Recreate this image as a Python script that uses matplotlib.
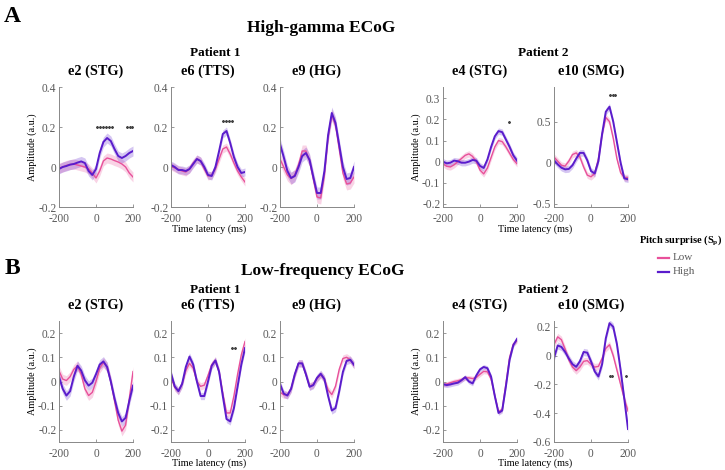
import numpy as np
import matplotlib
matplotlib.use('Agg')
import matplotlib.pyplot as plt

plt.rcParams['font.family'] = ['Liberation Serif', 'DejaVu Serif']
plt.rcParams['axes.unicode_minus'] = False

# time axis (ms)
t = [-200, -180, -160, -140, -120, -100, -80, -60, -40, -20, 0,
     20, 40, 60, 80, 100, 120, 140, 160, 180, 200]

# ---- A: high-gamma ECoG ----
a_e2_low = [-0.005, 0.0, 0.008, 0.012, 0.015, 0.01, 0.005, 0.0, -0.01, -0.03, -0.055,
            -0.02, 0.03, 0.045, 0.04, 0.032, 0.025, 0.015, 0.0, -0.03, -0.05]
a_e2_high = [-0.01, 0.0, 0.005, 0.012, 0.015, 0.022, 0.028, 0.02, -0.02, -0.04, -0.01,
             0.07, 0.125, 0.145, 0.13, 0.09, 0.055, 0.045, 0.055, 0.07, 0.08]
a_e6_low = [0.005, -0.005, -0.012, -0.02, -0.025, -0.01, 0.02, 0.04, 0.03, -0.01, -0.045,
            -0.04, -0.01, 0.04, 0.09, 0.1, 0.065, 0.02, -0.02, -0.05, -0.075]
a_e6_high = [0.01, 0.0, -0.015, -0.015, -0.02, -0.01, 0.015, 0.04, 0.03, 0.0, -0.04,
             -0.045, 0.0, 0.08, 0.165, 0.18, 0.12, 0.05, 0.0, -0.03, -0.025]
a_e9_low = [0.04, 0.0, -0.04, -0.058, -0.04, 0.01, 0.08, 0.08, 0.03, -0.06, -0.15,
            -0.155, -0.04, 0.15, 0.26, 0.21, 0.09, -0.03, -0.085, -0.08, -0.05]
a_e9_high = [0.115, 0.05, -0.02, -0.055, -0.045, 0.0, 0.055, 0.07, 0.035, -0.05, -0.13,
             -0.13, -0.02, 0.16, 0.27, 0.22, 0.11, 0.0, -0.06, -0.055, 0.0]
a_e4_low = [-0.01, -0.022, -0.025, -0.015, 0.0, 0.015, 0.03, 0.037, 0.025, 0.0, -0.04,
            -0.058, -0.03, 0.02, 0.07, 0.1, 0.095, 0.07, 0.04, 0.01, -0.01]
a_e4_high = [0.0, -0.008, -0.005, 0.005, 0.002, -0.005, -0.005, 0.0, 0.008, 0.005, -0.02,
             -0.03, 0.01, 0.07, 0.12, 0.145, 0.14, 0.105, 0.07, 0.03, 0.005]
a_e10_low = [0.07, 0.02, -0.03, -0.04, 0.02, 0.1, 0.12, 0.07, -0.05, -0.15, -0.17,
             -0.13, 0.05, 0.35, 0.55, 0.5, 0.3, 0.05, -0.12, -0.18, -0.18]
a_e10_high = [0.03, -0.02, -0.06, -0.08, -0.075, -0.03, 0.05, 0.12, 0.12, 0.03, -0.1,
              -0.13, 0.02, 0.35, 0.62, 0.68, 0.5, 0.25, 0.0, -0.19, -0.2]

# ---- B: low-frequency ECoG ----
b_e2_low = [0.044, 0.01, 0.004, 0.02, 0.05, 0.065, 0.03, -0.03, -0.058, -0.045, 0.0,
            0.055, 0.078, 0.06, 0.0, -0.08, -0.16, -0.205, -0.18, -0.07, 0.041]
b_e2_high = [0.02, -0.03, -0.058, -0.04, 0.02, 0.065, 0.045, 0.005, -0.017, -0.005, 0.03,
             0.07, 0.083, 0.06, 0.0, -0.07, -0.13, -0.165, -0.15, -0.08, -0.017]
b_e6_low = [0.02, -0.025, -0.04, -0.01, 0.045, 0.075, 0.055, 0.0, -0.02, -0.015, 0.025,
            0.07, 0.087, 0.04, -0.05, -0.13, -0.13, -0.06, 0.03, 0.11, 0.165]
b_e6_high = [0.034, -0.02, -0.04, -0.01, 0.06, 0.103, 0.07, 0.0, -0.06, -0.06, 0.0,
             0.065, 0.087, 0.04, -0.06, -0.155, -0.165, -0.11, -0.02, 0.07, 0.138]
b_e9_low = [-0.044, -0.055, -0.055, -0.03, 0.03, 0.075, 0.075, 0.03, -0.02, -0.012, 0.012,
            0.028, 0.01, -0.035, -0.054, -0.02, 0.05, 0.095, 0.1, 0.09, 0.067]
b_e9_high = [-0.01, -0.05, -0.058, -0.03, 0.03, 0.075, 0.075, 0.03, -0.022, -0.015, 0.015,
             0.032, 0.01, -0.06, -0.12, -0.11, -0.04, 0.04, 0.085, 0.09, 0.069]
b_e4_low = [-0.013, -0.01, -0.005, 0.0, 0.003, 0.008, 0.015, 0.015, 0.012, 0.017, 0.03,
            0.042, 0.04, 0.01, -0.06, -0.125, -0.115, -0.01, 0.1, 0.155, 0.168]
b_e4_high = [-0.011, -0.015, -0.012, -0.008, -0.005, 0.005, 0.018, 0.0, -0.008, 0.025, 0.05,
             0.06, 0.055, 0.02, -0.06, -0.13, -0.12, -0.02, 0.09, 0.15, 0.176]
b_e10_low = [0.076, 0.13, 0.11, 0.045, -0.03, -0.08, -0.105, -0.08, -0.04, -0.035, -0.06,
             -0.08, -0.075, -0.02, 0.05, 0.075, 0.0, -0.1, -0.2, -0.3, -0.385]
b_e10_high = [-0.016, 0.07, 0.06, 0.025, -0.02, -0.06, -0.078, -0.04, 0.025, 0.02, -0.04,
              -0.11, -0.145, -0.06, 0.12, 0.225, 0.2, 0.08, -0.1, -0.3, -0.51]

# shaded error half-widths (low, high)
a_err = [(0.025, 0.025), (0.02, 0.02), (0.03, 0.03), (0.015, 0.015), (0.04, 0.04)]
b_err = [(0.02, 0.02), (0.015, 0.015), (0.015, 0.015), (0.01, 0.01), (0.025, 0.025)]

electrodes = ['e2 (STG)', 'e6 (TTS)', 'e9 (HG)', 'e4 (STG)', 'e10 (SMG)']

# significant time points (ms) and the level where the stars sit
a_sig = [([5, 21, 37, 53, 69, 85, 170, 183, 196], 0.2),
         ([83, 99, 115, 130], 0.23),
         ([], 0),
         ([157], 0.19),
         ([104, 118, 132], 0.82)]
b_sig = [([], 0),
         ([132, 147], 0.14),
         ([], 0),
         ([], 0),
         ([100, 115, 191], -0.14)]

a_lims = [(-0.2, 0.4), (-0.2, 0.4), (-0.2, 0.4), (-0.215, 0.354), (-0.537, 0.92)]
b_lims = [(-0.25, 0.25)] * 4 + [(-0.6, 0.24)]
a_ticks = [[-0.2, 0, 0.2, 0.4]] * 3 + [[-0.2, -0.1, 0, 0.1, 0.2, 0.3], [-0.5, 0, 0.5]]
b_ticks = [[-0.2, -0.1, 0, 0.1, 0.2]] * 4 + [[-0.6, -0.4, -0.2, 0, 0.2]]

low_col = '#e8509a'
high_col = '#5a1ccc'
grey = '#5a5a5a'

W, H = 725., 470.
fig = plt.figure(figsize=(7.25, 4.7), dpi=100)

lefts = [59, 171, 280, 443, 554]
rows = [(87, 207, [a_e2_low, a_e6_low, a_e9_low, a_e4_low, a_e10_low],
         [a_e2_high, a_e6_high, a_e9_high, a_e4_high, a_e10_high], a_err, a_sig, a_lims, a_ticks),
        (321, 442, [b_e2_low, b_e6_low, b_e9_low, b_e4_low, b_e10_low],
         [b_e2_high, b_e6_high, b_e9_high, b_e4_high, b_e10_high], b_err, b_sig, b_lims, b_ticks)]

for top, bot, lows, highs, errs, sigs, lims, ticks in rows:
    for k in range(5):
        ax = fig.add_axes([lefts[k] / W, 1 - bot / H, 74 / W, (bot - top) / H])
        lo = np.array(lows[k])
        hi = np.array(highs[k])
        ax.fill_between(t, lo - errs[k][0], lo + errs[k][0], color=low_col, alpha=0.25, lw=0)
        ax.fill_between(t, hi - errs[k][1], hi + errs[k][1], color=high_col, alpha=0.25, lw=0)
        ax.plot(t, lo, color=low_col, lw=1.0)
        ax.plot(t, hi, color=high_col, lw=1.4)
        st, lev = sigs[k]
        if len(st):
            ax.plot(st, [lev] * len(st), ls='none', marker=(6, 2, 0), ms=2.0,
                    color='#444444', mew=0.4)
        ax.set_xlim(-200, 200)
        ax.set_ylim(*lims[k])
        ax.set_xticks([-200, 0, 200])
        ax.set_xticklabels(['-200', '0', '200'])
        ax.set_yticks(ticks[k])
        ax.set_yticklabels(['%g' % v for v in ticks[k]])
        for s in ['top', 'right']:
            ax.spines[s].set_visible(False)
        for s in ['left', 'bottom']:
            ax.spines[s].set_color('#888888')
            ax.spines[s].set_linewidth(0.7)
        ax.tick_params(direction='in', length=2, width=0.6, colors='#888888',
                       labelcolor=grey, labelsize=8.3)
        ax.tick_params(axis='x', pad=4)
        ax.tick_params(axis='y', pad=2)
        ax.set_title(electrodes[k], fontsize=10.3, fontweight='bold', pad=9)
        if k in (0, 3):
            ax.set_ylabel('Amplitude (a.u.)', fontsize=7.3, labelpad=1)

fig.text(12 / W, 1 - 16 / H, 'A', fontsize=17, fontweight='bold', ha='center', va='center')
fig.text(12 / W, 1 - 268 / H, 'B', fontsize=17, fontweight='bold', ha='center', va='center')
fig.text(321 / W, 1 - 28 / H, 'High-gamma ECoG', fontsize=12.5, fontweight='bold',
         ha='center', va='center')
fig.text(323 / W, 1 - 271 / H, 'Low-frequency ECoG', fontsize=12.5, fontweight='bold',
         ha='center', va='center')
for yy in (53, 290):
    fig.text(215 / W, 1 - yy / H, 'Patient 1', fontsize=9.5, fontweight='bold',
             ha='center', va='center')
    fig.text(543 / W, 1 - yy / H, 'Patient 2', fontsize=9.5, fontweight='bold',
             ha='center', va='center')
for yy in (229, 463):
    fig.text(209 / W, 1 - yy / H, 'Time latency (ms)', fontsize=7.3, ha='center', va='center')
    fig.text(535 / W, 1 - yy / H, 'Time latency (ms)', fontsize=7.3, ha='center', va='center')

# legend
fig.text(681 / W, 1 - 241 / H, 'Pitch surprise (S$_\\mathregular{p}$)', fontsize=7.5,
         fontweight='bold', ha='center', va='center')
lg = fig.add_axes([0, 0, 1, 1], facecolor='none')
lg.set_xlim(0, W)
lg.set_ylim(H, 0)
lg.axis('off')
lg.plot([658, 669], [258, 258], color=low_col, lw=1.6)
lg.plot([658, 669], [272, 272], color=high_col, lw=1.6)
fig.text(673 / W, 1 - 258 / H, 'Low', fontsize=8, color=grey, va='center')
fig.text(673 / W, 1 - 272 / H, 'High', fontsize=8, color=grey, va='center')

plt.savefig('out.png', dpi=100)
